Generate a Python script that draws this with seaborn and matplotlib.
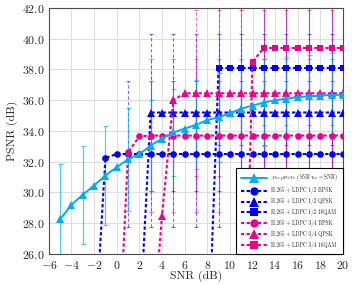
import matplotlib
matplotlib.use('Agg')
import matplotlib.pyplot as plt
import matplotlib.ticker as mticker
import seaborn as sns
import pandas as pd

# DeepWiVe (trained at the evaluation SNR)
snr_deepwive = [-5, -4, -3, -2, -1, 0, 1, 2, 3, 4, 5, 6, 7, 8, 9, 10, 11, 12, 13, 14, 15, 16, 17, 18, 19, 20]
psnr_deepwive = [28.25, 29.2, 29.85, 30.45, 31.1, 31.65, 32.15, 32.5, 33.05, 33.5, 33.9, 34.15, 34.4, 34.7,
                 34.9, 35.15, 35.45, 35.65, 35.85, 36.0, 36.1, 36.2, 36.25, 36.3, 36.35, 36.35]
err_snr_deepwive = [-5, -3, -1, 1, 3, 5, 7, 9, 11, 13, 15, 17, 19]
err_deepwive = [3.6, 3.2, 3.2, 3.35, 2.95, 2.8, 2.9, 2.9, 2.8, 2.8, 2.7, 2.7, 2.7]

# H.265 + LDPC baselines (points below 26 dB are decoding failures)
snr_bpsk12 = [-2, -1, 0, 1, 2, 3, 4, 5, 6, 7, 8, 9, 10, 11, 12, 13, 14, 15, 16, 17, 18, 19, 20]
psnr_bpsk12 = [20.0, 32.25, 32.5, 32.5, 32.5, 32.5, 32.5, 32.5, 32.5, 32.5, 32.5, 32.5, 32.5, 32.5, 32.5,
               32.5, 32.5, 32.5, 32.5, 32.5, 32.5, 32.5, 32.5]
err_snr_bpsk12 = [1, 3, 5, 7, 9, 11, 13, 15, 17, 19]
err_bpsk12 = [4.75, 4.75, 4.75, 4.75, 4.75, 4.75, 4.75, 4.75, 4.75, 4.75]

snr_qpsk12 = [2, 3, 4, 5, 6, 7, 8, 9, 10, 11, 12, 13, 14, 15, 16, 17, 18, 19, 20]
psnr_qpsk12 = [21.0, 35.2, 35.2, 35.2, 35.2, 35.2, 35.2, 35.2, 35.2, 35.2, 35.2, 35.2, 35.2, 35.2, 35.2,
               35.2, 35.2, 35.2, 35.2]
err_snr_qpsk12 = [3, 5, 7, 9, 11, 13, 15, 17, 19]
err_qpsk12 = [5.1, 5.1, 5.1, 5.1, 5.1, 5.1, 5.1, 5.1, 5.1]

snr_qam12 = [8, 9, 10, 11, 12, 13, 14, 15, 16, 17, 18, 19, 20]
psnr_qam12 = [18.0, 38.1, 38.1, 38.1, 38.1, 38.1, 38.1, 38.1, 38.1, 38.1, 38.1, 38.1, 38.1]
err_snr_qam12 = [9, 11, 13, 15, 17, 19]
err_qam12 = [5.0, 5.0, 5.0, 5.0, 5.0, 5.0]

snr_bpsk34 = [0, 1, 2, 3, 4, 5, 6, 7, 8, 9, 10, 11, 12, 13, 14, 15, 16, 17, 18, 19, 20]
psnr_bpsk34 = [17.0, 32.6, 33.65, 33.7, 33.7, 33.7, 33.7, 33.7, 33.7, 33.7, 33.7, 33.7, 33.7, 33.7, 33.7,
               33.7, 33.7, 33.7, 33.7, 33.7, 33.7]
err_snr_bpsk34 = [3, 5, 7, 9, 11, 13, 15, 17, 19]
err_bpsk34 = [4.95, 4.95, 4.95, 4.95, 4.95, 4.95, 4.95, 4.95, 4.95]

snr_qpsk34 = [3, 4, 5, 6, 7, 8, 9, 10, 11, 12, 13, 14, 15, 16, 17, 18, 19, 20]
psnr_qpsk34 = [19.0, 28.5, 36.0, 36.45, 36.45, 36.45, 36.45, 36.45, 36.45, 36.45, 36.45, 36.45, 36.45,
               36.45, 36.45, 36.45, 36.45, 36.45]
err_snr_qpsk34 = [7, 9, 11, 13, 15, 17, 19]
err_qpsk34 = [5.4, 5.4, 5.4, 5.4, 5.4, 5.4, 5.4]

snr_qam34 = [11, 12, 13, 14, 15, 16, 17, 18, 19, 20]
psnr_qam34 = [10.0, 38.5, 39.4, 39.4, 39.4, 39.4, 39.4, 39.4, 39.4, 39.4]
err_snr_qam34 = [13, 15, 17, 19]
err_qam34 = [5.0, 5.0, 5.0, 5.0]

x_ticks = [-6, -4, -2, 0, 2, 4, 6, 8, 10, 12, 14, 16, 18, 20]
y_ticks = [26, 28, 30, 32, 34, 36, 38, 40, 42]

cyan = '#00AEEF'
blue = '#0000FF'
magenta = '#EC008C'

sns.set_style('whitegrid')
plt.rcParams['font.family'] = ['cmr10', 'DejaVu Serif']
plt.rcParams['mathtext.fontset'] = 'cm'
plt.rcParams['axes.formatter.use_mathtext'] = True

fig = plt.figure(figsize=(3.54, 2.85), dpi=100)
ax = fig.add_axes([0.138, 0.109, 0.831, 0.863])

series = [
    ('H.265 + LDPC 1/2 BPSK', snr_bpsk12, psnr_bpsk12, err_snr_bpsk12, err_bpsk12, blue, 'o'),
    ('H.265 + LDPC 1/2 QPSK', snr_qpsk12, psnr_qpsk12, err_snr_qpsk12, err_qpsk12, blue, '^'),
    ('H.265 + LDPC 1/2 16QAM', snr_qam12, psnr_qam12, err_snr_qam12, err_qam12, blue, 's'),
    ('H.265 + LDPC 3/4 BPSK', snr_bpsk34, psnr_bpsk34, err_snr_bpsk34, err_bpsk34, magenta, 'o'),
    ('H.265 + LDPC 3/4 QPSK', snr_qpsk34, psnr_qpsk34, err_snr_qpsk34, err_qpsk34, magenta, '^'),
    ('H.265 + LDPC 3/4 16QAM', snr_qam34, psnr_qam34, err_snr_qam34, err_qam34, magenta, 's'),
]

# DeepWiVe first so it leads the legend, but drawn on top
deep = pd.DataFrame({'snr': snr_deepwive, 'psnr': psnr_deepwive}).set_index('snr')
eb = ax.errorbar(err_snr_deepwive, deep.loc[err_snr_deepwive, 'psnr'], yerr=err_deepwive, fmt='none',
                 ecolor=cyan, alpha=0.65, elinewidth=0.9, capsize=1.8, capthick=0.9, zorder=3)
sns.lineplot(x=snr_deepwive, y=psnr_deepwive, ax=ax, color=cyan, marker='^', markersize=5.5,
             markeredgewidth=0, linewidth=1.4, label='$\\mathit{DeepWiVe}$ ($\\mathrm{SNR}_{\\mathrm{Tra}}$ = SNR)',
             zorder=6)

for label, xs, ys, exs, es, col, mk in series:
    df = pd.DataFrame({'snr': xs, 'psnr': ys}).set_index('snr')
    eb = ax.errorbar(exs, df.loc[exs, 'psnr'], yerr=es, fmt='none', ecolor=col, alpha=0.55,
                     elinewidth=0.8, capsize=1.6, capthick=0.8, zorder=2)
    eb.lines[2][0].set_linestyle((0, (3, 2)))
    sns.lineplot(x=xs, y=ys, ax=ax, color=col, marker=mk, markersize=4.8 if mk != '^' else 5.2,
                 markeredgewidth=0, linewidth=1.5, linestyle=(0, (1.6, 1.1)), label=label, zorder=4)

ax.set_xlim(-6, 20)
ax.set_ylim(26, 42)
ax.set_xticks(x_ticks)
ax.set_yticks(y_ticks)
ax.xaxis.set_major_formatter(mticker.FuncFormatter(lambda v, p: '$%d$' % v))
ax.yaxis.set_major_formatter(mticker.FuncFormatter(lambda v, p: '$%.1f$' % v))
ax.tick_params(labelsize=8.5, direction='in', length=2, width=0.6, color='0.3')
ax.tick_params(axis='x', pad=3.5)
ax.tick_params(axis='y', pad=3)
ax.set_xlabel('SNR (dB)', fontsize=8.5, labelpad=0)
ax.set_ylabel('PSNR (dB)', fontsize=8.5, labelpad=3)
ax.grid(True, color='#dedede', linewidth=0.8)
for s in ax.spines.values():
    s.set_color('0.3')
    s.set_linewidth(0.8)

handles, labels = ax.get_legend_handles_labels()
leg = ax.legend(handles, labels, loc='lower right', bbox_to_anchor=(1, 0), borderaxespad=0,
                fontsize=3.8, handlelength=5.0, handletextpad=0.7, labelspacing=0.75, borderpad=0.9,
                markerscale=1.25, frameon=True, fancybox=False, edgecolor='black', framealpha=1)
leg.get_frame().set_linewidth(0.8)

fig.savefig('out.png', dpi=100)
